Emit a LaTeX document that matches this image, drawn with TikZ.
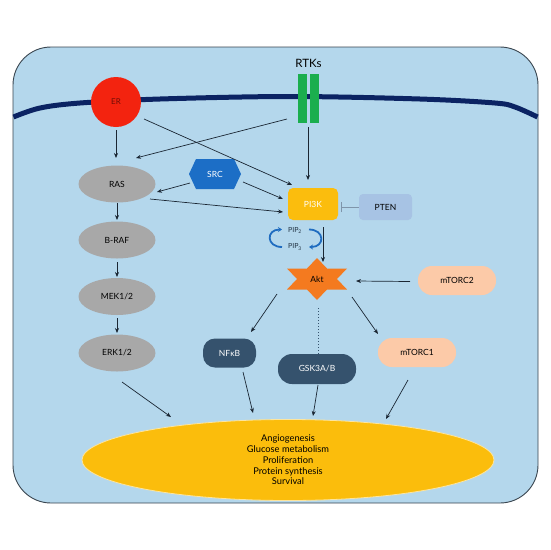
\documentclass[tikz,border=0pt]{standalone}
\usepackage{fontspec}
\setmainfont{Lato}
\usetikzlibrary{shapes.geometric,shapes.symbols,arrows.meta,calc}
\definecolor{cellbg}{HTML}{B4D7EC}
\definecolor{boxline}{HTML}{3A4650}
\definecolor{membr}{HTML}{0B2363}
\definecolor{erred}{HTML}{F3230F}
\definecolor{ertext}{HTML}{6E0D06}
\definecolor{rtkgreen}{HTML}{1BAE4E}
\definecolor{srcblue}{HTML}{1C6EC6}
\definecolor{pikyellow}{HTML}{FBBD0D}
\definecolor{ptenblue}{HTML}{A7C3E4}
\definecolor{ovalgray}{HTML}{A8A8A8}
\definecolor{slate}{HTML}{35526D}
\definecolor{peach}{HTML}{FCCAA8}
\definecolor{aktorange}{HTML}{F47A1F}
\definecolor{outyellow}{HTML}{FBBD0C}
\definecolor{pipblue}{HTML}{1F6CC0}
\definecolor{linecol}{HTML}{1A2633}
\definecolor{inhcol}{HTML}{7F95AA}
\begin{document}
\begin{tikzpicture}[x=1pt,y=-1pt,
  conn/.style={-{Stealth[length=5pt,width=4pt]}, line width=0.7pt, draw=linecol},
  grayoval/.style={ellipse, fill=ovalgray, minimum width=77pt, minimum height=37pt, inner sep=0pt, font=\fontsize{8.5}{10}\selectfont},
  slatebox/.style={rectangle, rounded corners=12pt, fill=slate, text=white, inner sep=0pt, font=\fontsize{8.5}{10}\selectfont},
  peachbox/.style={rectangle, rounded corners=14pt, fill=peach, minimum width=78pt, minimum height=29pt, inner sep=0pt, font=\fontsize{8.5}{10}\selectfont},
  rtkbar/.style={rectangle, fill=rtkgreen, minimum width=9pt, minimum height=49pt, inner sep=0pt},
  piparrow/.style={-{Stealth[length=4pt,width=5pt]}, line width=1.8pt, draw=pipblue},
]
\useasboundingbox (0,0) rectangle (550,550);
\fill[white] (0,0) rectangle (550,550);
% cell
\draw[fill=cellbg, draw=boxline, line width=0.9pt, rounded corners=38pt] (13,47) rectangle (538,503);
% membrane
\draw[membr, line width=5pt, line cap=butt] plot[smooth, tension=0.55] coordinates {(13.5,117) (40,108) (80,103) (160,99) (290,96.5) (420,99) (495,103) (515,107) (537.5,117)};
% receptors
\node[circle, fill=erred, minimum size=50pt, inner sep=0pt, text=ertext, font=\fontsize{8}{9}\selectfont] (er) at (116,102) {ER};
\node[rtkbar] (rtk1) at (302.5,98.5) {};
\node[rtkbar] (rtk2) at (314.5,98.5) {};
\node[font=\fontsize{11.5}{13}\selectfont] (rtklabel) at (308.5,63) {RTKs};
% MAPK branch
\node[grayoval] (ras) at (117,184) {RAS};
\node[grayoval] (braf) at (117,240) {B-RAF};
\node[grayoval] (mek) at (117,296.5) {MEK1/2};
\node[grayoval] (erk) at (117,353) {ERK1/2};
% SRC
\node[signal, signal to=east and west, signal pointer angle=130, fill=srcblue, text=white, minimum width=52pt, minimum height=30pt, inner sep=0pt, font=\fontsize{8.5}{10}\selectfont] (src) at (215,174) {SRC};
% PI3K & PTEN
\node[rectangle, rounded corners=5pt, fill=pikyellow, text=white, minimum width=50pt, minimum height=32pt, inner sep=0pt, font=\fontsize{8.5}{10}\selectfont] (pi3k) at (313,204) {PI3K};
\node[rectangle, rounded corners=4pt, fill=ptenblue, minimum width=53pt, minimum height=26pt, inner sep=0pt, font=\fontsize{8.5}{10}\selectfont] (pten) at (385.5,207) {PTEN};
% PIP
\node[font=\fontsize{7}{8}\selectfont, text=slate!60!black] (pip2) at (295,230.5) {PIP\textsubscript{2}};
\node[font=\fontsize{7}{8}\selectfont, text=slate!60!black] (pip3) at (295,247) {PIP\textsubscript{3}};
\draw[piparrow] ($(pip3)+(-13,0)$) .. controls +(-16,0) and +(-16,0) .. ($(pip2)+(-13,-1)$);
\draw[piparrow] ($(pip2)+(14,-1)$) .. controls +(16,0) and +(16,0) .. ($(pip3)+(14,0)$);
% Akt star
\fill[aktorange, shift={(317,279)}] (0,-21) -- (10,-10.5) -- (30,-10.5) -- (20,0) -- (30,10.5) -- (10,10.5) -- (0,21) -- (-10,10.5) -- (-30,10.5) -- (-20,0) -- (-30,-10.5) -- (-10,-10.5) -- cycle;
\node[font=\fontsize{8.5}{10}\selectfont, minimum width=60pt, minimum height=42pt, inner sep=0pt] (akt) at (317,279) {Akt};
% mTOR
\node[peachbox] (mtorc2) at (457,280.5) {mTORC2};
\node[peachbox] (mtorc1) at (417,352.5) {mTORC1};
% downstream
\node[slatebox, minimum width=53pt, minimum height=29pt] (nfkb) at (229.5,353) {NF\kern0.3pt κB};
\node[slatebox, minimum width=78pt, minimum height=30pt, rounded corners=14pt] (gsk) at (317,369) {GSK3A/B};
% outcome
\node[ellipse, fill=outyellow, draw=white!60!outyellow, line width=0.8pt, minimum width=412pt, minimum height=81pt, inner sep=0pt, align=center, font=\fontsize{9.3}{10.7}\selectfont] (out) at (288,460) {Angiogenesis\\Glucose metabolism\\Proliferation\\Protein synthesis\\Survival};
% connectors
\draw[conn] ($(er)+(0,28)$) -- ($(ras)+(-1,-26)$);
\draw[conn] ($(rtk1)+(-15.5,20.5)$) -- ($(ras)+(19,-26)$);
\draw[conn] ($(er)+(28,17)$) -- ($(pi3k)+(-21,-19)$);
\draw[conn] ($(rtk1)+(5.5,28.5)$) -- ($(pi3k)+(-5,-24)$);
\draw[conn] ($(src)+(-25,9)$) -- ($(ras)+(40,8)$);
\draw[conn] ($(src)+(28,8)$) -- ($(pi3k)+(-30,-5)$);
\draw[conn] ($(ras)+(33,15)$) -- ($(pi3k)+(-30,8)$);
\draw[conn] ($(ras)+(0,19)$) -- ($(braf)+(0,-20)$);
\draw[conn] ($(braf)+(0,22)$) -- ($(mek)+(0,-19.5)$);
\draw[conn] ($(mek)+(0,21.5)$) -- ($(erk)+(0,-20)$);
\draw[-{Bar[width=10pt]}, line width=0.8pt, draw=inhcol] (pten.west) -- ($(pi3k.east)+(3,3)$);
\draw[conn] ($(pi3k)+(10,23)$) -- ($(akt)+(6,-17)$);
\draw[conn] ($(mtorc2)+(-47,1)$) -- ($(akt)+(39,2)$);
\draw[conn] ($(akt)+(35,18)$) -- ($(mtorc1)+(-39,-18.5)$);
\draw[conn] ($(akt)+(-40,15)$) -- ($(nfkb)+(21.5,-21)$);
\draw[line width=1pt, dotted, draw=slate] ($(akt)+(1,29)$) -- ($(gsk.north)+(1,0)$);
\draw[conn] ($(erk)+(5,29)$) -- ($(out)+(-117,-43)$);
\draw[conn] ($(nfkb)+(13.5,19)$) -- ($(out)+(-35,-47)$);
\draw[conn] ($(gsk)+(1,16)$) -- ($(out)+(25,-44)$);
\draw[conn] ($(mtorc1)+(-9,27.5)$) -- ($(out)+(98,-41)$);
\end{tikzpicture}
\end{document}
